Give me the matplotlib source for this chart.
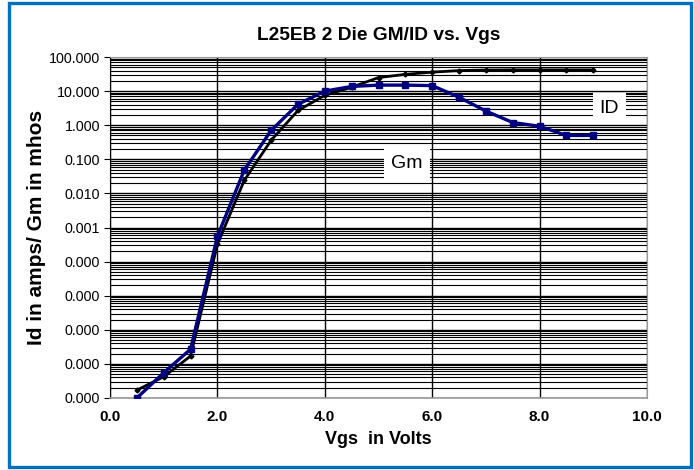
import matplotlib
matplotlib.use('Agg')
import matplotlib.pyplot as plt
from matplotlib.patches import Rectangle
from matplotlib.ticker import FixedLocator, FuncFormatter, LogLocator
import numpy as np

plt.rcParams['font.family'] = ['Liberation Sans', 'DejaVu Sans']

# Gate voltage steps
vgs = [0.5, 1.0, 1.5, 2.0, 2.5, 3.0, 3.5, 4.0, 4.5, 5.0, 5.5, 6.0, 6.5, 7.0, 7.5, 8.0, 8.5, 9.0]

# Drain current (amps)
id_amps = [1.7e-8, 4.2e-8, 1.7e-7, 3.2e-4, 0.024, 0.36, 2.7, 7.5, 13.0, 25.0, 31.0, 36.0,
           40.0, 41.5, 42.0, 42.0, 42.0, 42.0]

# Transconductance (mhos)
gm_mhos = [1.0e-8, 5.5e-8, 2.7e-7, 5.5e-4, 0.048, 0.7, 4.1, 10.0, 13.7, 15.0, 15.0, 14.5,
           6.6, 2.6, 1.2, 0.93, 0.5, 0.5]

x_ticks = [0.0, 2.0, 4.0, 6.0, 8.0, 10.0]


def make_chart():
    fig = plt.figure(figsize=(6.94, 4.70), dpi=100)
    ax = fig.add_axes([0.1585, 0.1532, 0.7738, 0.7255])

    # blue frame round the whole chart
    fig.patches.append(Rectangle((0.013, 0.0064), 0.983, 0.987, transform=fig.transFigure,
                                 fill=False, edgecolor='#0070C0', linewidth=2.4))

    ax.plot(vgs, id_amps, color='black', linewidth=2.0, marker='D', markersize=2.5, zorder=3)
    ax.plot(vgs, gm_mhos, color='#000080', linewidth=2.4, marker='s', markersize=5, zorder=4)

    ax.set_yscale('log')
    ax.set_ylim(1e-8, 100)
    ax.set_xlim(0, 10)

    ax.yaxis.set_major_locator(LogLocator(base=10, numticks=20))
    ax.yaxis.set_minor_locator(LogLocator(base=10, subs=np.arange(2, 10), numticks=100))
    ax.yaxis.set_major_formatter(FuncFormatter(lambda v, p: '%.3f' % v))
    ax.yaxis.set_minor_formatter(FuncFormatter(lambda v, p: ''))
    ax.xaxis.set_major_locator(FixedLocator(x_ticks))
    ax.xaxis.set_major_formatter(FuncFormatter(lambda v, p: '%.1f' % v))

    ax.grid(True, which='major', axis='both', color='black', linewidth=1.0)
    ax.grid(True, which='minor', axis='y', color='black', linewidth=0.8)

    ax.tick_params(axis='y', which='major', direction='out', length=4, color='black',
                   labelsize=10.3, pad=3)
    ax.tick_params(axis='y', which='minor', length=0)
    ax.tick_params(axis='x', length=0, labelsize=11, pad=9)
    for lbl in ax.get_xticklabels():
        lbl.set_fontweight('bold')

    ax.spines['left'].set_color('black')
    for side in ['top', 'right', 'bottom']:
        ax.spines[side].set_color('#999999')
    ax.spines['bottom'].set_linewidth(1.2)

    ax.set_title('L25EB 2 Die GM/ID vs. Vgs', fontsize=13.8, fontweight='bold', pad=12)
    ax.set_xlabel('Vgs  in Volts', fontsize=13, fontweight='bold', labelpad=5)
    ax.set_ylabel('Id in amps/ Gm in mhos', fontsize=15, fontweight='bold', labelpad=2)

    box = dict(facecolor='white', edgecolor='none', pad=5)
    ax.text(9.3, 3.0, 'ID', fontsize=14, ha='center', va='center', bbox=box, zorder=5)
    ax.text(5.53, 0.076, 'Gm', fontsize=14, ha='center', va='center', bbox=box, zorder=5)

    fig.savefig('out.png', dpi=100)
    plt.close(fig)


if __name__ == "__main__":
    make_chart()
